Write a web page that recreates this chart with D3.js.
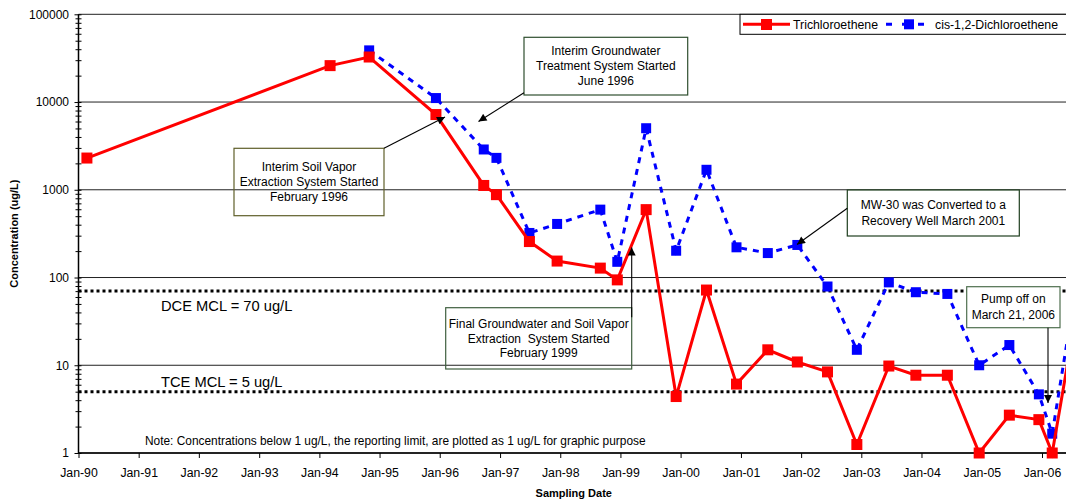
<!DOCTYPE html>
<html>
<head>
<meta charset="utf-8">
<script src="https://cdn.jsdelivr.net/npm/d3@7"></script>
<style>
  body { margin: 0; background: #fff; }
  svg { display: block; font-family: "Liberation Sans", Arial, sans-serif; }
</style>
</head>
<body>
<div id="chart"></div>
<script>
// sampling dates and concentrations (ug/L)
var sampleDates = ["1990-02-21", "1994-03-07", "1994-10-30", "1995-12-09", "1996-09-24", "1996-12-10",
  "1997-06-28", "1997-12-13", "1998-09-01", "1998-12-13", "1999-06-06", "1999-12-05", "2000-06-06",
  "2000-12-05", "2001-06-13", "2001-12-09", "2002-06-10", "2002-12-05", "2003-06-17", "2003-11-28",
  "2004-06-06", "2004-12-16", "2005-06-17", "2005-12-13", "2006-03-04", "2006-07-01"];
var tceValues = [2300, 26000, 32600, 7200, 1120, 880, 257, 154, 128, 94, 594, 4.4, 72,
  6.1, 15, 10.9, 8.4, 1.25, 9.8, 7.7, 7.7, 1, 2.7, 2.4, 1, 20];
var dceValues = [null, null, 38800, 11100, 2880, 2310, 322, 408, 594, 151, 5030, 202, 1690,
  221, 190, 235, 79, 15, 88, 68, 65, 10, 17, 4.66, 1.66, 40];
var seriesNames = ["Trichloroethene", "cis-1,2-Dichloroethene"];
var yTickValues = [1, 10, 100, 1000, 10000, 100000];
var mclValues = [70, 5];
var mclLabels = ["DCE MCL = 70 ug/L", "TCE MCL = 5 ug/L"];

var W = 1066, H = 501;
var margin = { left: 78.5, top: 14.3, bottom: 453, right: 1069 };

var parse = d3.timeParse("%Y-%m-%d");

var svg = d3.select("#chart").append("svg").attr("width", W).attr("height", H);

var x = d3.scaleTime()
  .domain([new Date(1990, 0, 1), new Date(2006, 0, 1)])
  .range([margin.left, 1042]);
var y = d3.scaleLog().domain([1, 100000]).range([margin.bottom, margin.top]);

// gridlines
svg.append("g")
  .selectAll("line")
  .data(yTickValues)
  .enter()
  .append("line")
  .attr("x1", margin.left).attr("x2", margin.right)
  .attr("y1", d => y(d)).attr("y2", d => y(d))
  .attr("stroke", "#222").attr("stroke-width", 1);

// MCL dotted lines
svg.append("g")
  .selectAll("line")
  .data(mclValues)
  .enter()
  .append("line")
  .attr("x1", margin.left).attr("x2", margin.right)
  .attr("y1", d => y(d)).attr("y2", d => y(d))
  .attr("stroke", "#000").attr("stroke-width", 3)
  .attr("stroke-dasharray", "3,3");

svg.append("g")
  .selectAll("text")
  .data(mclLabels)
  .enter()
  .append("text")
  .attr("x", 161)
  .attr("y", (d, i) => y(mclValues[i]) + (i == 0 ? 20 : -5))
  .style("font-size", "14.7px")
  .attr("fill", "#000")
  .text(d => d);

// y axis
var minor = [];
for (var p = 0; p < 5; p++) {
  for (var m = 1; m < 10; m++) minor.push(m * Math.pow(10, p));
}
minor.push(100000);

var yAxis = svg.append("g")
  .attr("transform", "translate(" + margin.left + ",0)")
  .call(d3.axisLeft(y).tickValues(minor).tickSize(3).tickPadding(6.5)
    .tickFormat(d => yTickValues.indexOf(d) >= 0 ? d3.format("d")(d) : ""));
yAxis.selectAll(".tick line").attr("x1", 3).attr("x2", d => yTickValues.indexOf(d) >= 0 ? -4 : -3);
yAxis.selectAll("text").style("font-size", "12px").attr("fill", "#000");
yAxis.select(".domain").remove();
svg.append("line").attr("x1", margin.left).attr("x2", margin.left)
  .attr("y1", margin.top).attr("y2", margin.bottom)
  .attr("stroke", "#000").attr("stroke-width", 1.5);

// x axis
var xAxis = svg.append("g")
  .attr("transform", "translate(0," + margin.bottom + ")")
  .call(d3.axisBottom(x).ticks(d3.timeYear.every(1)).tickSize(5).tickPadding(10)
    .tickFormat(d3.timeFormat("Jan-%y")));
xAxis.select(".domain").remove();
xAxis.selectAll("text").style("font-size", "12.3px").attr("fill", "#000");
svg.append("line").attr("x1", margin.left).attr("x2", margin.right)
  .attr("y1", margin.bottom).attr("y2", margin.bottom)
  .attr("stroke", "#000").attr("stroke-width", 1.5);

// axis titles
svg.append("text")
  .attr("transform", "translate(18," + (margin.top + margin.bottom) / 2 + ") rotate(-90)")
  .attr("text-anchor", "middle")
  .style("font-size", "11px").style("font-weight", "bold")
  .text("Concentration (ug/L)");
svg.append("text")
  .attr("x", (margin.left + margin.right) / 2).attr("y", 497)
  .attr("text-anchor", "middle")
  .style("font-size", "11px").style("font-weight", "bold")
  .text("Sampling Date");

// note
svg.append("text")
  .attr("x", 145).attr("y", 444.5)
  .style("font-size", "11.9px")
  .text("Note: Concentrations below 1 ug/L, the reporting limit, are plotted as 1 ug/L for graphic purpose");

// series
var tceData = sampleDates.map((d, i) => ({ date: parse(d), value: tceValues[i] }));
var dceData = sampleDates.map((d, i) => ({ date: parse(d), value: dceValues[i] }))
  .filter(d => d.value != null);

var line = d3.line().x(d => x(d.date)).y(d => y(d.value));

svg.append("path").datum(dceData)
  .attr("d", line).attr("fill", "none")
  .attr("stroke", "#0000ff").attr("stroke-width", 3).attr("stroke-dasharray", "6,6");
svg.append("g").selectAll("rect").data(dceData).enter().append("rect")
  .attr("x", d => x(d.date) - 5).attr("y", d => y(d.value) - 5)
  .attr("width", 10).attr("height", 10).attr("fill", "#0000ff");

svg.append("path").datum(tceData)
  .attr("d", line).attr("fill", "none")
  .attr("stroke", "#ff0000").attr("stroke-width", 3);
svg.append("g").selectAll("rect").data(tceData).enter().append("rect")
  .attr("x", d => x(d.date) - 5.5).attr("y", d => y(d.value) - 5.5)
  .attr("width", 11).attr("height", 11).attr("fill", "#ff0000");

// legend
var legend = svg.append("g");
legend.append("rect").attr("x", 740).attr("y", 14.3).attr("width", 340).attr("height", 20)
  .attr("fill", "#fff").attr("stroke", "#000").attr("stroke-width", 1);
legend.append("line").attr("x1", 743).attr("x2", 790).attr("y1", 24.3).attr("y2", 24.3)
  .attr("stroke", "#ff0000").attr("stroke-width", 3);
legend.append("rect").attr("x", 761).attr("y", 19).attr("width", 11).attr("height", 11).attr("fill", "#ff0000");
legend.append("text").attr("x", 793).attr("y", 28.8).style("font-size", "12.3px").text(seriesNames[0]);
legend.append("line").attr("x1", 886).attr("x2", 928).attr("y1", 24.3).attr("y2", 24.3)
  .attr("stroke", "#0000ff").attr("stroke-width", 3).attr("stroke-dasharray", "6,10");
legend.append("rect").attr("x", 904).attr("y", 19.3).attr("width", 10).attr("height", 10).attr("fill", "#0000ff");
legend.append("text").attr("x", 935).attr("y", 28.8).style("font-size", "12.3px").text(seriesNames[1]);

// annotations
svg.append("defs").append("marker")
  .attr("id", "arrow").attr("viewBox", "0 0 10 10")
  .attr("refX", 10).attr("refY", 5)
  .attr("markerWidth", 9).attr("markerHeight", 8)
  .attr("markerUnits", "userSpaceOnUse")
  .attr("orient", "auto")
  .append("path").attr("d", "M0,0L10,5L0,10z").attr("fill", "#000");

var notes = [
  { x: 234, y: 148.3, w: 150, h: 67.4, stroke: "#5f5f2a", fill: "none",
    lines: ["Interim Soil Vapor", "Extraction System Started", "February 1996"], ty: 171, step: 15,
    arrow: [384, 148.3, 445, 117] },
  { x: 524, y: 37.3, w: 163.7, h: 57.7, stroke: "#2f4f2f", fill: "#fff",
    lines: ["Interim Groundwater", "Treatment System Started", "June 1996"], ty: 55.3, step: 14.7,
    arrow: [524, 92.7, 478.5, 121.5] },
  { x: 445.7, y: 307.7, w: 186, h: 61.3, stroke: "#3f5f3f", fill: "none",
    lines: ["Final Groundwater and Soil Vapor", "Extraction  System Started", "February 1999"], ty: 327.6, step: 14.9,
    arrow: [631.7, 317.3, 631.7, 247.5] },
  { x: 847.3, y: 190, w: 172, h: 46, stroke: "#1f3f1f", fill: "#fff",
    lines: ["MW-30 was Converted to a", "Recovery Well March 2001"], ty: 209.3, step: 15.7,
    arrow: [847.3, 208.3, 797, 244.5] },
  { x: 966.7, y: 286.7, w: 93.3, h: 41, stroke: "#4f6f4f", fill: "#fff",
    lines: ["Pump off on", "March 21, 2006"], ty: 303.3, step: 15.3,
    arrow: [1048, 327.7, 1048, 403] }
];

notes.forEach(function (n) {
  var g = svg.append("g");
  g.append("rect").attr("x", n.x).attr("y", n.y).attr("width", n.w).attr("height", n.h)
    .attr("fill", n.fill).attr("stroke", n.stroke).attr("stroke-width", 1.2);
  n.lines.forEach(function (t, i) {
    g.append("text")
      .attr("x", n.x + n.w / 2).attr("y", n.ty + i * n.step)
      .attr("text-anchor", "middle")
      .style("font-size", "12px").style("white-space", "pre")
      .text(t);
  });
  g.append("line")
    .attr("x1", n.arrow[0]).attr("y1", n.arrow[1])
    .attr("x2", n.arrow[2]).attr("y2", n.arrow[3])
    .attr("stroke", "#000").attr("stroke-width", 1.1)
    .attr("marker-end", "url(#arrow)");
});
</script>
</body>
</html>
